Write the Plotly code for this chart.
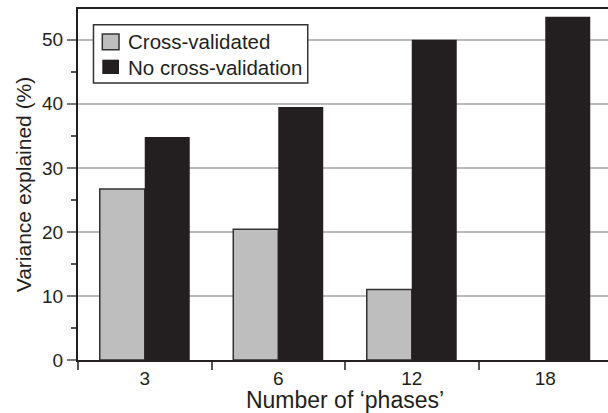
import plotly.graph_objects as go

categories = ["3", "6", "12", "18"]
cross_validated = [26.7, 20.4, 11.0, None]
no_cross_validation = [34.8, 39.5, 50.0, 53.6]
series_names = ["Cross-validated", "No cross-validation"]

font_family = "Liberation Sans, Arial, sans-serif"
gray = "#bebebe"
dark = "#231f20"
edge = "#333333"

fig = go.Figure()
fig.add_trace(go.Bar(
    x=categories, y=cross_validated, name=series_names[0], showlegend=False,
    marker=dict(color=gray, line=dict(color=edge, width=1.5)),
))
fig.add_trace(go.Bar(
    x=categories, y=no_cross_validation, name=series_names[1], showlegend=False,
    marker=dict(color=dark, line=dict(color=dark, width=0)),
))

# legend drawn in paper coordinates (box, swatches, labels)
shapes = [
    dict(type="rect", xref="paper", yref="paper", x0=0.0290, x1=0.4302, y0=0.7892, y1=0.9553,
         line=dict(color=edge, width=1.5), fillcolor="white", layer="above"),
    dict(type="rect", xref="paper", yref="paper", x0=0.0455, x1=0.0768, y0=0.8840, y1=0.9288,
         line=dict(color=edge, width=1.5), fillcolor=gray, layer="above"),
    dict(type="rect", xref="paper", yref="paper", x0=0.0455, x1=0.0768, y0=0.8148, y1=0.8556,
         line=dict(color=dark, width=0), fillcolor=dark, layer="above"),
]
annotations = [
    dict(text=series_names[0], xref="paper", yref="paper", x=0.0905, y=0.906,
         xanchor="left", yanchor="middle", showarrow=False, font=dict(size=20.5, color=dark)),
    dict(text=series_names[1], xref="paper", yref="paper", x=0.0905, y=0.8339,
         xanchor="left", yanchor="middle", showarrow=False, font=dict(size=20.5, color=dark)),
]

fig.update_layout(
    width=612, height=413,
    margin=dict(l=78, r=0, t=9, b=53, autoexpand=False),
    plot_bgcolor="white", paper_bgcolor="white",
    barmode="group", bargap=0.326, bargroupgap=0,
    font=dict(family=font_family, size=19, color=dark),
    showlegend=False,
    shapes=shapes,
    annotations=annotations,
)
fig.update_xaxes(
    type="category", range=[-0.5, 3.5], automargin=False,
    showline=True, linecolor=dark, linewidth=2, mirror=True,
    ticks="outside", tickson="boundaries", ticklen=8, tickcolor="#555555", tickwidth=1.5,
    showgrid=False,
    title=dict(text="Number of \u2018phases\u2019", font=dict(size=23), standoff=2),
    tickfont=dict(size=19),
)
fig.update_yaxes(
    range=[0, 54.8], automargin=False,
    showline=True, linecolor=dark, linewidth=2,
    ticks="outside", ticklen=9, tickcolor="#777777", tickwidth=1.5,
    tickvals=[0, 10, 20, 30, 40, 50],
    showgrid=True, gridcolor="#bbbbbb", gridwidth=1.5,
    zeroline=False,
    minor=dict(tickvals=[5, 15, 25, 35, 45], ticks="outside", ticklen=5, tickcolor="#555555", showgrid=False),
    title=dict(text="Variance explained (%)", font=dict(size=21), standoff=5),
    tickfont=dict(size=19),
)

fig.write_html(
    "out.html",
    config={"displayModeBar": False},
    post_script="document.body.style.margin='0';document.body.style.overflow='hidden';",
)
